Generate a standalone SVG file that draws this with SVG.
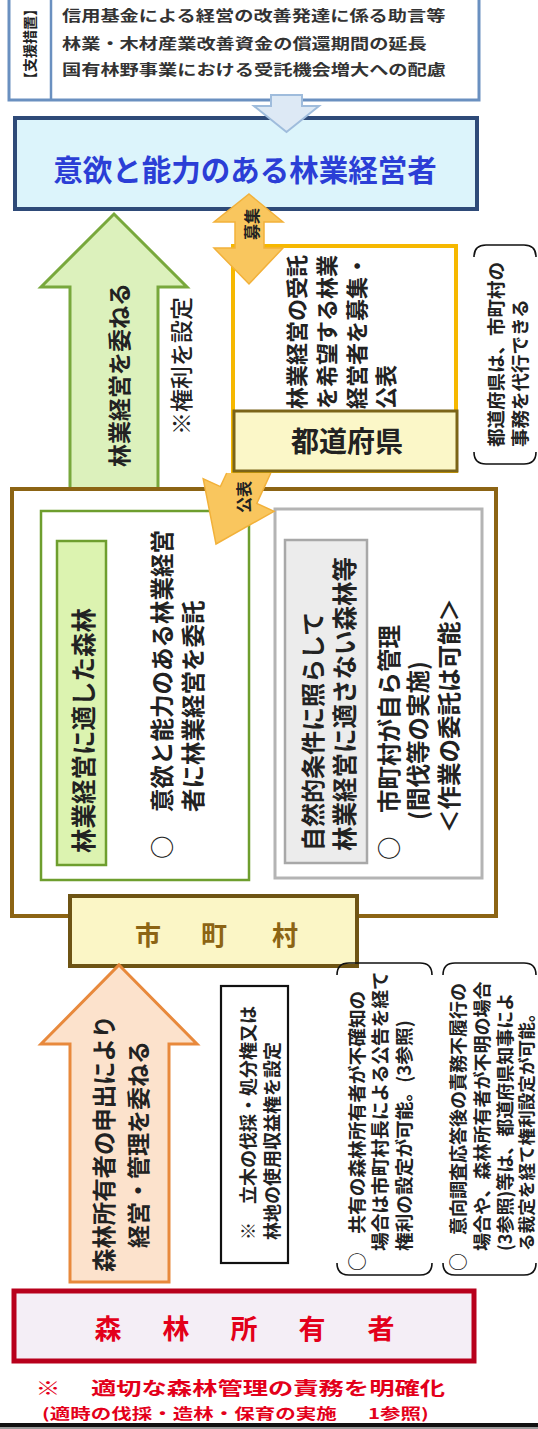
<svg xmlns="http://www.w3.org/2000/svg" width="538" height="1429" viewBox="0 0 538 1429">
<style>
text{font-family:"Noto Sans CJK JP","Noto Sans CJK SC",sans-serif;font-weight:bold;dominant-baseline:central;fill:#222}
.sq{font-size:19.2px;fill:#333}
.bl{fill:#2b3ed6;font-size:29.5px}
.vt{font-size:23.5px}
.br{fill:none;stroke:#111;stroke-width:1.6}
.red{fill:#e3001a}
</style>
<rect width="538" height="1429" fill="#fff"/>

<g id="support">
<rect x="9" y="-6" width="470" height="106" fill="#fff" stroke="#6a90c0" stroke-width="3"/>
<line x1="51" y1="-6" x2="51" y2="100" stroke="#6a90c0" stroke-width="2.5"/>
<text transform="translate(29,44) rotate(-90)" text-anchor="middle" font-size="14">【支援措置】</text>
<text class="sq" transform="translate(62,15) scale(1,0.75)">信用基金による経営の改善発達に係る助言等</text>
<text class="sq" transform="translate(62,43) scale(1,0.75)">林業・木材産業改善資金の償還期間の延長</text>
<text class="sq" transform="translate(62,69) scale(1,0.75)">国有林野事業における受託機会増大への配慮</text>
</g>

<g id="manager">
<rect x="15" y="118" width="462" height="91" fill="#dcf4fb" stroke="#2e4a78" stroke-width="4"/>
<text class="bl" x="245" y="168" text-anchor="middle">意欲と能力のある林業経営者</text>
</g>

<g id="municipality">
<rect x="12" y="489" width="484" height="427" fill="#fff" stroke="#8c6414" stroke-width="4"/>
<g id="suitable">
<rect x="41" y="511" width="208" height="369" fill="#fff" stroke="#6e9e2e" stroke-width="2.5"/>
<rect x="57" y="541" width="49" height="324" fill="#dcf3b0" stroke="#6e9e2e" stroke-width="2.5"/>
<text transform="translate(82,853) rotate(-90)" font-size="24.5">林業経営に適した森林</text>
<text class="vt" transform="translate(161,859) rotate(-90)">○　意欲と能力のある林業経営</text>
<text class="vt" transform="translate(192,812) rotate(-90)">者に林業経営を委託</text>
</g>
<g id="unsuitable">
<rect x="275" y="509" width="207" height="369" fill="#fff" stroke="#b4b4b4" stroke-width="3"/>
<rect x="285" y="540" width="82" height="323" fill="#ececec" stroke="#a8a8a8" stroke-width="2.5"/>
<text transform="translate(311,851) rotate(-90)" font-size="24">自然的条件に照らして</text>
<text transform="translate(343,851) rotate(-90)" font-size="24.5">林業経営に適さない森林等</text>
<text class="vt" transform="translate(388,860) rotate(-90)">○　市町村が自ら管理</text>
<text class="vt" transform="translate(417,820) rotate(-90)">(間伐等の実施)</text>
<text class="vt" transform="translate(448,833) rotate(-90)">＜作業の委託は可能＞</text>
</g>
<rect x="70" y="896" width="287" height="70" fill="#fbf6c6" stroke="#6e5414" stroke-width="4"/>
<text x="148" y="933" text-anchor="middle" font-size="26" style="fill:#8c6414">市</text>
<text x="214" y="933" text-anchor="middle" font-size="26" style="fill:#8c6414">町</text>
<text x="285" y="933" text-anchor="middle" font-size="26" style="fill:#8c6414">村</text>
</g>

<g id="prefecture">
<rect x="233" y="246" width="223" height="225" fill="#fff" stroke="#f6b800" stroke-width="4"/>
<text transform="translate(295,409) rotate(-90)" font-size="22">林業経営の受託</text>
<text transform="translate(325,409) rotate(-90)" font-size="22">を希望する林業</text>
<text transform="translate(355,409) rotate(-90)" font-size="22">経営者を募集・</text>
<text transform="translate(384,409) rotate(-90)" font-size="22">公表</text>
<rect x="234" y="411" width="223" height="60" fill="#fbf7c8" stroke="#7b6418" stroke-width="3"/>
<text x="347" y="440" text-anchor="middle" font-size="28">都道府県</text>
</g>

<g id="note-pref">
<path class="br" d="M474,257 Q474,245 486,245 L524,245 Q536,245 536,257"/>
<path class="br" d="M474,452 Q474,464 486,464 L524,464 Q536,464 536,452"/>
<text transform="translate(495,447) rotate(-90)" font-size="18.5">都道府県は、市町村の</text>
<text transform="translate(519,447) rotate(-90)" font-size="18.5">事務を代行できる</text>
</g>

<g id="right-note">
<text transform="translate(180,366) rotate(-90)" text-anchor="middle" font-size="23" style="font-weight:500">※権利を設定</text>
</g>

<g id="rights-box">
<rect x="221" y="986" width="67" height="277" fill="#fff" stroke="#111" stroke-width="2.2"/>
<text transform="translate(247,1240) rotate(-90)" font-size="18">※　立木の伐採・処分権又は</text>
<text transform="translate(271,1240) rotate(-90)" font-size="18">林地の使用収益権を設定</text>
</g>

<g id="note-common">
<path class="br" d="M337,975 Q337,963 349,963 L420,963 Q432,963 432,975"/>
<path class="br" d="M337,1263 Q337,1275 349,1275 L420,1275 Q432,1275 432,1263"/>
<text transform="translate(355,1271) rotate(-90)" font-size="18.7">○　共有の森林所有者が不確知の</text>
<text transform="translate(378,1251) rotate(-90)" font-size="18.7">場合は市町村長による公告を経て</text>
<text transform="translate(402,1251) rotate(-90)" font-size="18.7">権利の設定が可能。(3参照)</text>
</g>

<g id="note-unknown">
<path class="br" d="M443,975 Q443,963 455,963 L524,963 Q536,963 536,975"/>
<path class="br" d="M443,1263 Q443,1275 455,1275 L524,1275 Q536,1275 536,1263"/>
<text transform="translate(457,1271) rotate(-90)" font-size="18">○　意向調査応答後の責務不履行の</text>
<text transform="translate(481,1251) rotate(-90)" font-size="18">場合や、森林所有者が不明の場合</text>
<text transform="translate(504,1251) rotate(-90)" font-size="18">(3参照)等は、都道府県知事によ</text>
<text transform="translate(525,1251) rotate(-90)" font-size="17.6">る裁定を経て権利設定が可能。</text>
</g>

<g id="owner">
<rect x="14" y="1291" width="460" height="70" fill="#f4eef6" stroke="#b8001c" stroke-width="5"/>
<text class="red" x="108" y="1327" text-anchor="middle" font-size="27">森</text>
<text class="red" x="176" y="1327" text-anchor="middle" font-size="27">林</text>
<text class="red" x="244" y="1327" text-anchor="middle" font-size="27">所</text>
<text class="red" x="312" y="1327" text-anchor="middle" font-size="27">有</text>
<text class="red" x="381" y="1327" text-anchor="middle" font-size="27">者</text>
<text class="red" transform="translate(48,1387) scale(1,0.72)" text-anchor="middle" font-size="25">※</text>
<text class="red" transform="translate(91,1387) scale(1,0.72)" font-size="25.3">適切な森林管理の責務を明確化</text>
<text class="red" transform="translate(42,1413) scale(1,0.7)" font-size="20.5">(適時の伐採・造林・保育の実施<tspan x="326">1参照)</tspan></text>
</g>

<g id="connectors">
<polygon points="271,95 302,95 302,106 319,106 286.5,132 254,106 271,106" fill="#dde9f5" stroke="#9fbcdc" stroke-width="2"/>
<path d="M70,487 L70,287 L41,287 L114,214 L187,287 L158,287 L158,487" fill="#dcf1bc" stroke="#78a83c" stroke-width="3"/>
<text transform="translate(118,375) rotate(-90)" text-anchor="middle" font-size="23">林業経営を委ねる</text>
<polygon points="249,194 283,222 264,222 264,248 283,248 249,284 214,248 235,248 235,222 214,222" fill="#f9c65e" stroke="#f2b13a" stroke-width="1.5"/>
<text transform="translate(251,224) rotate(-90)" text-anchor="middle" font-size="16">募集</text>
<path d="M226.7,473 L220.4,486.6 L203.2,478.7 L216,544 L274,511.3 L256.8,503.4 L270.8,473" fill="#f9c65e" stroke="#f2b13a" stroke-width="1.5"/>
<text transform="translate(243,497) rotate(-90)" text-anchor="middle" font-size="16">公表</text>
<polygon points="119,965 197,1044 169,1044 169,1282 70,1282 70,1044 41,1044" fill="#fce2cc" stroke="#e8893c" stroke-width="3"/>
<text transform="translate(103,1272) rotate(-90)" font-size="23.4">森林所有者の申出により</text>
<text transform="translate(137,1248) rotate(-90)" font-size="23">経営・管理を委ねる</text>
</g>

<rect x="0" y="1423" width="538" height="4" fill="#111"/>
<rect x="0" y="1427" width="538" height="2" fill="#9a9a9a"/>
</svg>
